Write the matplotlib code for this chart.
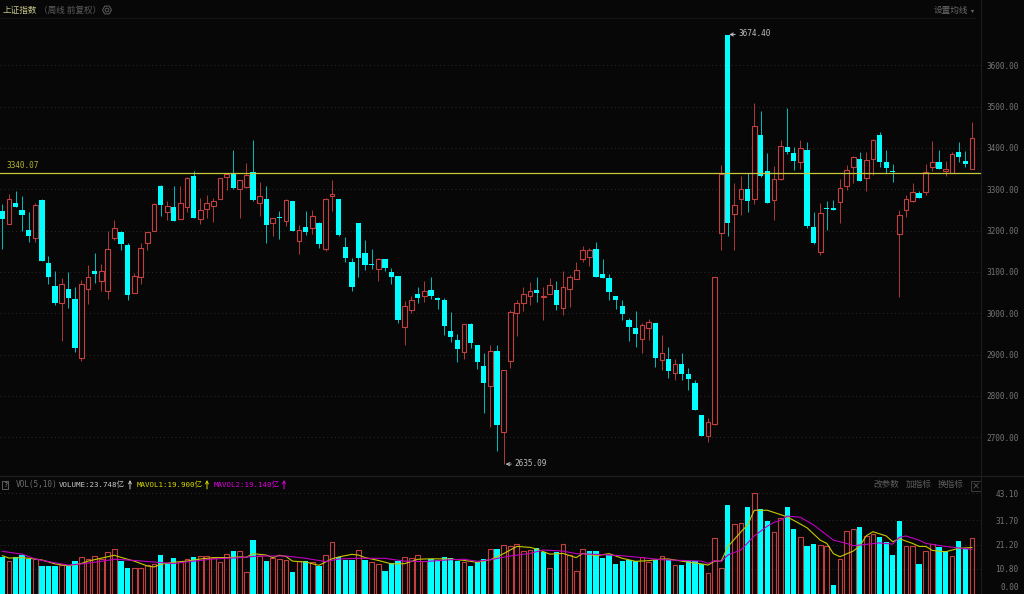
#!/usr/bin/env python
import numpy as np
import matplotlib
matplotlib.use('Agg')
import matplotlib.pyplot as plt
from matplotlib.patches import Rectangle

##### weekly candles #####
opens = [3247,3217,3268,3249,3202,3183,3273,3122,3067,3025,3060,3035,2891,3060,3102,3077,3054,3181,3196,3165,3048,3087,3169,3198,3309,3244,3257,3229,3256,3332,3227,3253,3260,3277,3331,3336,3300,3306,3342,3268,3277,3219,3232,3224,3271,3176,3209,3207,3219,3156,3285,
         3276,3160,3125,3219,3145,3119,3108,3131,3100,3090,2968,3007,3046,3042,3056,3038,3032,2956,2936,2907,2973,2923,2872,2824,2909,2714,2884,3000,3025,3042,3056,3039,3047,3056,3012,3058,3084,3131,3137,3156,3094,3085,3042,3018,2983,2964,2937,2964,2977,2888,
         2889,2856,2877,2854,2831,2753,2704,2733,3194,3674,3241,3276,3300,3276,3432,3344,3273,3326,3402,3389,3366,3395,3209,3148,3255,3255,3269,3307,3354,3373,3327,3373,3431,3365,3344,3191,3251,3272,3291,3294,3353,3365,3345,3339,3390,3369,3349]
closes = [3227,3276,3258,3237,3188,3262,3126,3088,3025,3072,3038,2916,3070,3087,3096,3102,3155,3206,3168,3045,3090,3157,3196,3264,3262,3260,3223,3267,3327,3231,3249,3266,3272,3327,3338,3302,3322,3334,3273,3283,3214,3230,3230,3273,3198,3202,3196,3236,3168,3276,3288,
         3189,3133,3064,3133,3117,3117,3132,3110,3088,2983,3017,3031,3038,3053,3042,3031,2970,2943,2914,2973,2928,2882,2832,2908,2730,2864,3002,3026,3046,3055,3048,3041,3068,3019,3064,3087,3104,3154,3154,3089,3086,3052,3033,2999,2968,2949,2971,2980,2891,2903,
         2861,2877,2854,2840,2765,2703,2736,3087,3336,3219,3261,3300,3272,3452,3332,3268,3326,3404,3391,3369,3399,3212,3169,3242,3253,3251,3302,3346,3379,3321,3372,3420,3366,3352,3342,3238,3276,3294,3280,3341,3367,3349,3348,3385,3378,3361,3423]
highs = [3265,3289,3296,3285,3244,3266,3277,3139,3102,3085,3099,3063,3081,3117,3145,3119,3199,3226,3198,3169,3097,3170,3196,3267,3310,3272,3309,3309,3331,3344,3279,3286,3278,3328,3339,3395,3323,3364,3419,3317,3309,3231,3248,3276,3271,3213,3247,3249,3220,3279,3322,
         3276,3185,3134,3219,3177,3155,3134,3131,3109,3090,3030,3042,3064,3078,3089,3040,3037,3003,2950,2973,2976,2923,2904,2923,2923,2864,3008,3031,3063,3075,3089,3064,3085,3077,3102,3092,3123,3162,3157,3173,3131,3095,3043,3031,2989,3005,2976,2986,2977,2947,
         2918,2890,2904,2868,2839,2753,2746,3087,3359,3674,3315,3332,3339,3509,3489,3387,3357,3419,3496,3402,3419,3414,3245,3266,3272,3274,3325,3359,3381,3390,3391,3422,3439,3395,3361,3250,3286,3315,3296,3361,3417,3395,3369,3390,3414,3393,3463]
lows = [3155,3217,3258,3199,3173,3172,3126,3072,3020,2934,3014,2907,2885,3023,3074,3055,3035,3177,3152,3031,3048,3072,3153,3198,3235,3225,3223,3227,3245,3230,3217,3231,3222,3277,3298,3301,3230,3302,3272,3235,3169,3187,3180,3211,3198,3144,3190,3192,3158,3151,3247,
        3188,3124,3054,3089,3105,3106,3079,3102,3072,2977,2923,3000,3026,3027,3035,3011,2948,2931,2882,2889,2916,2866,2760,2724,2666,2635,2867,2944,3006,3021,3027,2983,3047,3008,2995,3015,3082,3125,3114,3087,3085,3031,3011,2984,2933,2919,2904,2936,2871,2864,
        2844,2839,2839,2815,2765,2703,2689,2730,3153,3187,3153,3239,3245,3265,3331,3268,3226,3323,3386,3347,3349,3206,3168,3141,3202,3250,3219,3298,3315,3319,3297,3335,3355,3339,3318,3040,3234,3270,3278,3286,3345,3348,3333,3339,3365,3354,3348]

##### volume (yi), c = cyan bar, r = red bar #####
volume = [15.9,14.0,15.9,16.9,14.9,15.0,11.9,12.0,12.0,12.4,12.4,14.1,15.7,15.1,16.1,15.0,17.9,19.1,14.3,11.1,11.1,11.0,12.4,12.7,16.6,13.1,15.3,13.6,15.1,16.0,16.1,16.4,15.3,13.7,17.3,18.6,18.6,9.4,23.1,16.1,14.0,15.3,15.0,14.7,9.4,14.0,14.1,13.9,11.9,16.6,22.1,15.7,
          14.7,14.4,18.7,14.6,13.6,12.7,9.9,13.3,14.1,15.7,15.3,16.6,14.1,14.9,14.6,15.9,15.3,14.3,13.6,12.0,13.7,15.0,19.1,19.4,20.9,20.4,21.6,18.3,18.7,19.6,18.0,11.1,18.0,21.6,16.7,9.7,19.4,18.6,18.3,15.3,16.6,12.9,14.0,14.6,14.1,15.7,13.9,14.4,16.1,14.7,
          12.3,12.6,14.0,14.0,12.9,8.9,23.9,11.0,38.0,29.9,30.3,37.3,43.4,36.3,31.3,26.4,32.4,37.1,27.7,24.6,20.6,21.3,20.9,20.4,4.0,14.9,26.9,27.9,28.6,24.9,25.6,24.3,22.4,16.7,31.3,20.6,20.4,12.7,18.4,21.4,20.3,18.3,16.1,22.7,19.1,23.9]
vol_dir = ('crcccrcccrccrrrrrrccrrrrcccrrcrrrrrcrrcrcrrrcrcrcrrc'
           'ccrcrrcccrrrrcccccrcccrcrrrrrccrcrrrrccccccccrrcrcrccccrrr'
           'crrcrccrrccrccrrcrrrcrrccccrrcrrccrccr')

# moving averages, candle position and value where they were read
ma5_pos = [0,1,3,5,6,8,10,12,13,16,17,18,20,22,23,24,26,28,30,32,34,36,37,38,40,41,42,43,44,46,48,50,51,53,54,55,57,59,61,63,65,68,70,72,74,76,78,80,81,83,85,87,88,90,92,94,96,98,100,101,103,106,107,108,109,110,112,113,114,116,119,122,124,125,126,127,129,130,131,132,134,135,136,138,139,140,141,143,145,147]
ma5 = [16.4,15.4,15.6,15.0,14.6,12.9,12.1,13.1,14.1,16.0,16.6,15.7,14.1,12.0,11.6,12.7,13.6,14.1,15.0,15.6,15.6,15.9,15.7,17.3,16.7,15.6,16.6,16.1,14.1,13.7,12.3,15.1,15.9,17.0,16.7,15.6,14.4,12.9,13.0,14.9,15.1,15.0,14.4,13.6,14.7,17.3,20.4,20.0,19.3,17.1,17.4,15.6,17.4,16.4,17.3,15.3,14.0,14.3,15.0,15.0,14.1,12.9,12.4,14.1,14.1,20.3,26.7,29.6,35.9,35.9,33.1,28.4,23.1,21.7,17.3,16.0,18.4,20.6,25.0,26.7,24.9,22.4,23.7,21.7,20.4,20.4,18.7,18.1,19.6,19.9]
ma10_pos = [0,3,5,7,10,12,15,17,20,23,26,29,32,36,39,43,46,49,51,54,58,61,64,68,70,72,74,77,80,82,85,87,90,94,97,100,103,106,107,108,109,110,112,114,116,117,118,119,121,123,125,126,128,129,131,133,135,136,137,139,140,143,146,147]
ma10 = [18.3,17.1,15.0,13.9,12.4,12.9,14.0,14.9,14.4,13.7,13.1,14.1,15.0,15.6,16.3,16.3,15.3,13.9,15.0,15.3,15.3,14.1,13.9,14.7,14.9,14.0,14.7,16.3,17.4,18.9,18.4,17.3,17.0,16.4,15.6,14.7,14.4,14.1,13.1,14.3,13.9,16.7,18.9,24.9,29.1,30.7,31.6,33.4,32.9,29.6,25.3,23.1,21.7,20.7,21.3,21.9,21.4,24.3,24.9,23.1,21.7,20.4,19.4,19.14]

price_ticks = [2700,2800,2900,3000,3100,3200,3300,3400,3500,3600]
vol_ticks = [10.8,21.2,31.7,43.1]
level = 3340.07

bg = '#070707'
cyan = '#00ffff'
cyan_wick = '#00b8b8'
red = '#c44040'
red_wick = '#a83838'
grey = '#767676'
grid = '#2b2b2b'
plt.rcParams['font.family'] = ['Noto Sans CJK SC', 'DejaVu Sans']
mono = 'DejaVu Sans Mono'

fig = plt.figure(figsize=(10.24,5.94), dpi=100, facecolor=bg)

def pixel_axes(left, top, right, bottom):
    return fig.add_axes([left/1024, 1-bottom/594, (right-left)/1024, (bottom-top)/594], facecolor=bg)

ax = pixel_axes(0, 17, 981, 475)
vax = pixel_axes(0, 476, 981, 594)
ov = fig.add_axes([0,0,1,1], facecolor='none', zorder=5)
ov.set_xlim(0,1024)
ov.set_ylim(594,0)
ov.axis('off')

##### candles #####
pos = np.arange(len(opens))
opens, closes = np.array(opens, float), np.array(closes, float)
highs, lows = np.array(highs, float), np.array(lows, float)
up = closes > opens

ax.vlines(pos[~up], lows[~up], highs[~up], color=cyan_wick, lw=0.72, zorder=2)
ax.vlines(pos[up], lows[up], highs[up], color=red_wick, lw=0.72, zorder=2)
ax.bar(pos[~up], (opens-closes)[~up], bottom=closes[~up], width=0.8, color=cyan, lw=0, zorder=3)
ax.bar(pos[up], (closes-opens)[up], bottom=opens[up], width=0.72, facecolor=bg, edgecolor=red, lw=0.8, zorder=3)

ax.set_xlim(-0.35,148.38)
ax.set_ylim(2608.8,3716.9)
ax.set_yticks(price_ticks)
ax.set_yticklabels(['%.2f' % t for t in price_ticks], family=mono, fontsize=5.6, color=grey, ha='right')
ax.yaxis.tick_right()
ax.tick_params(axis='y', length=0, pad=27)
ax.set_xticks([])
ax.grid(axis='y', color=grid, ls=(0,(1,3)), lw=0.7, zorder=0)
for s in ax.spines.values():
    s.set_visible(False)

ax.axhline(level, color='#c9c93a', lw=0.9, zorder=4)
ov.text(6, 166, '3340.07', family=mono, fontsize=5.6, color='#b4b432', va='center')

ax.annotate('3674.40', xy=(110.2,3674.4), xytext=(738,34), textcoords=ov.transData,
            family=mono, fontsize=5.6, color='#bdbdbd', va='center', zorder=6,
            arrowprops=dict(arrowstyle='->', color='#bdbdbd', lw=0.7, shrinkA=0, shrinkB=0))
ax.annotate('2635.09', xy=(76.3,2635.09), xytext=(514,464), textcoords=ov.transData,
            family=mono, fontsize=5.6, color='#bdbdbd', va='center', zorder=6,
            arrowprops=dict(arrowstyle='->', color='#bdbdbd', lw=0.7, shrinkA=0, shrinkB=0))

##### volume #####
vol = np.array(volume)
vup = np.array([d == 'r' for d in vol_dir])
vax.bar(pos[~vup], vol[~vup], width=0.8, color=cyan, lw=0, zorder=2)
vax.bar(pos[vup], vol[vup], width=0.72, facecolor='none', edgecolor=red, lw=0.8, zorder=2)
vax.plot(ma5_pos, ma5, color='#c8c800', lw=0.8, zorder=3)
vax.plot(ma10_pos, ma10, color='#c000c0', lw=0.8, zorder=3)
vax.set_xlim(-0.35,148.38)
vax.set_ylim(0,50.6)
vax.set_yticks(vol_ticks)
vax.set_yticklabels(['%.2f' % t for t in vol_ticks], family=mono, fontsize=5.6, color=grey, ha='right')
vax.yaxis.tick_right()
vax.tick_params(axis='y', length=0, pad=27)
vax.set_xticks([])
vax.grid(axis='y', color=grid, ls=(0,(1,3)), lw=0.7, zorder=0)
for s in vax.spines.values():
    s.set_visible(False)
ov.text(1019, 588, '0.00', family=mono, fontsize=5.6, color=grey, ha='right', va='center')

##### window chrome #####
ov.plot([981,981],[0,594], color='#1c1c1c', lw=0.8)
ov.plot([0,1024],[475.5,475.5], color='#1e1e1e', lw=1)
ov.plot([0,975],[17.5,17.5], color='#141414', lw=0.8)

ov.text(3, 10, '上证指数', fontsize=6.2, color='#c8c88c', va='center')
ov.text(39, 10, '（周线 前复权）', fontsize=6.2, color='#5e5e5e', va='center')
ov.scatter([107],[10], marker='H', s=42, facecolor='none', edgecolor='#5e5e5e', lw=0.7)
ov.scatter([107],[10], marker='o', s=7, facecolor='none', edgecolor='#5e5e5e', lw=0.7)
ov.text(934, 10.5, '设置均线', fontsize=6.2, color='#6a6a6a', va='center')
ov.scatter([972],[10.5], marker='v', s=5, color='#6a6a6a', lw=0)

ov.add_patch(Rectangle((1.5,481), 6.5, 8, facecolor='none', edgecolor='#6a6a6a', lw=0.6))
ov.text(4.8, 485, '?', family=mono, fontsize=5, color='#8a8a8a', ha='center', va='center')
ov.text(16, 484, 'VOL(5,10)', family=mono, fontsize=5.6, color='#6e6e6e', va='center')
legend = [(59,'VOLUME:23.748亿','#c8c8c8',130), (137,'MAVOL1:19.900亿','#d8d800',207), (214,'MAVOL2:19.140亿','#e000e0',284)]
for x, label, col, arrow_x in legend:
    ov.text(x, 484, label, family=[mono,'Noto Sans CJK SC'], fontsize=5.4, color=col, va='center')
    ov.annotate('', xy=(arrow_x,480), xytext=(arrow_x,489),
                arrowprops=dict(arrowstyle='->', color=col, lw=0.7, shrinkA=0, shrinkB=0, mutation_scale=5))
for x, label in [(874,'改参数'), (906,'加指标'), (938,'换指标')]:
    ov.text(x, 484.5, label, fontsize=6.2, color='#5e5e5e', va='center')
ov.add_patch(Rectangle((970.5,480.5), 10, 10, facecolor='none', edgecolor='#444444', lw=0.6))
ov.text(975.5, 485.5, '×', fontsize=6, color='#707070', ha='center', va='center')

plt.savefig('out.png', dpi=100, facecolor=bg)
